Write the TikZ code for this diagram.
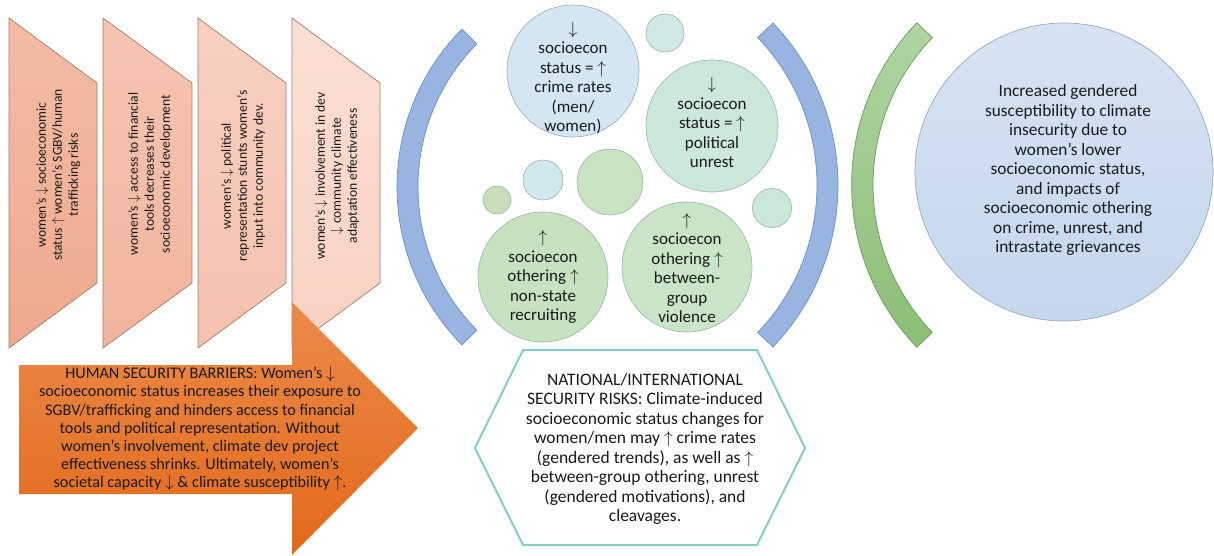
\documentclass[tikz,border=0pt]{standalone}
\usepackage{fontspec}
\setmainfont{Carlito}
\newcommand{\mydn}{$\downarrow$}
\newcommand{\myup}{$\uparrow$}
\definecolor{txt}{HTML}{1A1A1A}
\definecolor{trapline}{HTML}{9E7E70}
\definecolor{tA1}{HTML}{F3BCA5}\definecolor{tA2}{HTML}{EEA98D}
\definecolor{tB1}{HTML}{F5C5B2}\definecolor{tB2}{HTML}{F1B49C}
\definecolor{tC1}{HTML}{F8D0C1}\definecolor{tC2}{HTML}{F4C1AD}
\definecolor{tD1}{HTML}{FBDFD4}\definecolor{tD2}{HTML}{F8D2C3}
\definecolor{arrtop}{HTML}{EC8A4A}\definecolor{arrbot}{HTML}{E2691B}
\definecolor{bluearc}{HTML}{97B5E0}\definecolor{bluearcl}{HTML}{6E8EBF}
\definecolor{grtop}{HTML}{B0D4A2}\definecolor{grbot}{HTML}{8BBE76}\definecolor{grline}{HTML}{6C9A58}
\definecolor{bubline}{HTML}{9DB3A8}
\definecolor{bA}{HTML}{D3E6F1}\definecolor{bB}{HTML}{D0E9E6}\definecolor{bC}{HTML}{CCE8DA}
\definecolor{bD}{HTML}{C8DEB9}\definecolor{bE}{HTML}{D0E8EE}\definecolor{bF}{HTML}{C8E2C2}
\definecolor{bG}{HTML}{CBE8D8}\definecolor{bH}{HTML}{C6E2C0}\definecolor{bI}{HTML}{C9E4C6}
\definecolor{hexline}{HTML}{86CEC8}
\definecolor{bigtop}{HTML}{D6E3F2}\definecolor{bigbot}{HTML}{C5D7ED}\definecolor{bigline}{HTML}{9AA9BA}
\begin{document}
\begin{tikzpicture}[x=1pt,y=-1pt,
  trap/.style={draw=trapline, line width=0.7pt},
  rtext/.style={rotate=90, align=center, font=\fontsize{13.6}{16}\selectfont, text=txt, inner sep=0pt},
  btext/.style={align=center, font=\fontsize{17.3}{19.5}\selectfont, text=txt, inner sep=0pt},
  bubble/.style={circle, draw=bubline, line width=0.6pt, minimum size=#1, inner sep=0pt},
  barc/.style={fill=bluearc, draw=bluearcl, line width=0.7pt},
  garc/.style={top color=grtop, bottom color=grbot, draw=grline, line width=0.7pt},
]
\useasboundingbox (0,0) rectangle (1214,555);
% trapezoids
\path[trap, top color=tA1, bottom color=tA2] (9,18) -- (97,83) -- (97,283) -- (9,348) -- cycle;
\path[trap, top color=tB1, bottom color=tB2] (103,18) -- (192,83) -- (192,283) -- (103,348) -- cycle;
\path[trap, top color=tC1, bottom color=tC2] (198,18) -- (286,83) -- (286,283) -- (198,348) -- cycle;
\path[trap, top color=tD1, bottom color=tD2] (292,18) -- (380,83) -- (380,283) -- (292,348) -- cycle;
\node[rtext] (t1) at (58,175) {women's \mydn{} socioeconomic\\status \myup{} women's SGBV/human\\trafficking risks};
\node[rtext] (t2) at (150,174) {women's \mydn{} access to financial\\tools decreases their\\socioeconomic development};
\node[rtext] (t3) at (243,176) {women's \mydn{} political\\representation stunts women's\\input into community dev.};
\node[rtext] (t4) at (337,176) {women's \mydn{} involvement in dev\\\mydn{} community climate\\adaptation effectiveness};
% big arrow
\path[top color=arrtop, bottom color=arrbot] (19,365) -- (292,365) -- (292,302) -- (418,428) -- (292,555) -- (292,494) -- (19,494) -- cycle;
\node[btext, font=\fontsize{16.2}{18.2}\selectfont] (hs) at (200,429) {HUMAN SECURITY BARRIERS: Women's \mydn\\socioeconomic status increases their exposure to\\SGBV/trafficking and hinders access to financial\\tools and political representation. Without\\women's involvement, climate dev project\\effectiveness shrinks. Ultimately, women's\\societal capacity \mydn{} \& climate susceptibility \myup.};
% blue arcs
\path[barc] ([shift={(621.5,187)}]135.3:224.5pt) arc[start angle=135.3, end angle=224.7, radius=224.5pt]
  -- ([shift={(621.5,187)}]224.7:203.5pt) arc[start angle=224.7, end angle=135.3, radius=203.5pt] -- cycle;
\path[barc] ([shift={(604,185)}]43.8:234pt) arc[start angle=43.8, end angle=-43.8, radius=234pt]
  -- ([shift={(604,185)}]-43.8:213pt) arc[start angle=-43.8, end angle=43.8, radius=213pt] -- cycle;
% green arc
\path[garc] ([shift={(1086,185)}]136.2:234.4pt) arc[start angle=136.2, end angle=223.8, radius=234.4pt]
  -- ([shift={(1086,185)}]223.8:213pt) arc[start angle=223.8, end angle=136.2, radius=213pt] -- cycle;
% bubbles
\node[bubble=132pt, fill=bA, draw=bigline] (b1) at (573,71) {};
\node[bubble=38pt, fill=bB] (b2) at (665,33) {};
\node[bubble=132pt, fill=bC] (b3) at (712,126) {};
\node[bubble=28pt, fill=bD] (b4) at (497,200) {};
\node[bubble=40pt, fill=bE] (b5) at (543,180) {};
\node[bubble=66pt, fill=bF] (b6) at (610,182) {};
\node[bubble=39pt, fill=bG] (b7) at (772,208) {};
\node[bubble=130pt, fill=bH] (b8) at (543,277) {};
\node[bubble=130pt, fill=bI] (b9) at (687,267) {};
\node[btext, font=\fontsize{17}{19.5}\selectfont] (b1t) at (573,78) {\mydn\\socioecon\\status = \myup\\crime rates\\(men/\\women)};
\node[btext, font=\fontsize{17}{19.5}\selectfont] (b3t) at (712,123) {\mydn\\socioecon\\status = \myup\\political\\unrest};
\node[btext, font=\fontsize{17}{19.5}\selectfont] (b8t) at (543,277) {\myup\\socioecon\\othering \myup\\non-state\\recruiting};
\node[btext, font=\fontsize{17}{19.5}\selectfont] (b9t) at (687,268) {\myup\\socioecon\\othering \myup\\between-\\group\\violence};
% hexagon
\draw[hexline, line width=2pt, fill=white] (475,448) -- (523,350) -- (757,350) -- (805,448) -- (757,545) -- (523,545) -- cycle;
\node[btext, font=\fontsize{17.5}{19.5}\selectfont] (hx) at (645,449) {NATIONAL/INTERNATIONAL\\SECURITY RISKS: Climate-induced\\socioeconomic status changes for\\women/men may \myup{} crime rates\\(gendered trends), as well as \myup\\between-group othering, unrest\\(gendered motivations), and\\cleavages.};
% big circle
\node[circle, minimum size=298pt, inner sep=0pt, top color=bigtop, bottom color=bigbot, draw=bigline, line width=0.7pt] (big) at (1064,172) {};
\node[btext] (bigt) at (1068,170) {Increased gendered\\susceptibility to climate\\insecurity due to\\women's lower\\socioeconomic status,\\and impacts of\\socioeconomic othering\\on crime, unrest, and\\intrastate grievances};
\end{tikzpicture}
\end{document}
